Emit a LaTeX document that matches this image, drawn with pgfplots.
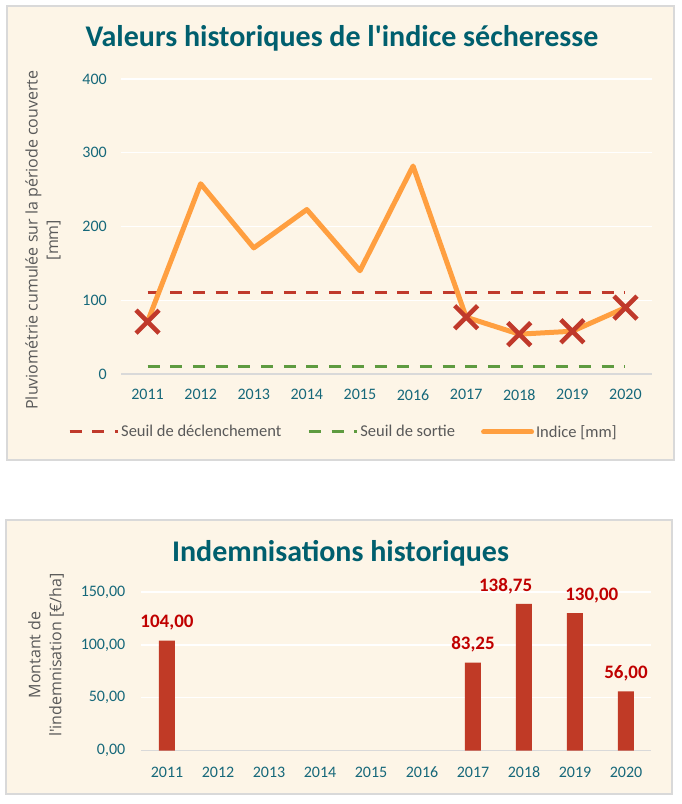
\documentclass[border=0pt]{standalone}
\usepackage{fontspec}
\usepackage{pgfplots}
\pgfplotsset{compat=1.18}
\setmainfont{Carlito}
\newfontfamily\labelfont{Open Sans}
\definecolor{bg}{HTML}{FDF5E7}
\definecolor{framec}{HTML}{D9D9D9}
\definecolor{titlec}{HTML}{005F6E}
\definecolor{tickc}{HTML}{16687A}
\definecolor{seuilr}{HTML}{C0392B}
\definecolor{seuilg}{HTML}{5E9B40}
\definecolor{indice}{HTML}{FF9F40}
\definecolor{markc}{HTML}{C0392B}
\definecolor{barc}{HTML}{C03A26}
\definecolor{labc}{HTML}{C00000}
\definecolor{grayt}{HTML}{595959}
\begin{document}
\begin{tikzpicture}
\useasboundingbox (0pt,0pt) rectangle (682pt,804pt);
\fill[white] (0pt,0pt) rectangle (682pt,804pt);
\draw[framec, line width=1.3pt, fill=bg] (7pt,798pt) rectangle (674pt,344pt);
\draw[framec, line width=1.3pt, fill=bg] (6pt,284pt) rectangle (672pt,10pt);
\node[anchor=base, text=titlec, font=\bfseries\fontsize{30}{36}\selectfont, inner sep=0pt] at (342pt,757.3pt) {Valeurs historiques de l\textquotesingle indice sécheresse};
\node[anchor=base, text=titlec, font=\bfseries\fontsize{30}{36}\selectfont, inner sep=0pt] at (340.5pt,242.3pt) {Indemnisations historiques};

\begin{axis}[
  at={(121pt,430pt)}, anchor=south west,
  scale only axis, width=531pt, height=295pt,
  xmin=-0.5, xmax=9.5, ymin=0, ymax=400,
  xtick={0,1,2,3,4,5,6,7,8,9},
  xticklabels={2011,2012,2013,2014,2015,2016,2017,2018,2019,2020},
  ytick={0,100,200,300,400},
  /pgf/number format/assume math mode=true,
  tick style={draw=none},
  ticklabel style={text=tickc, font=\fontsize{16}{19}\selectfont},
  yticklabel style={anchor=east, inner sep=0pt, xshift=-14pt},
  xticklabel style={anchor=north, inner sep=0pt, yshift=-15pt},
  ymajorgrids, grid style={white, line width=1.3pt},
  axis x line*=bottom, axis y line*=left,
  x axis line style={draw=framec, line width=1.3pt, -},
  y axis line style={draw=none},
  ylabel={Pluviométrie cumulée sur la période couverte\\{[mm]}},
  ylabel style={at={(axis description cs:-0.1469,0.454)}, anchor=center, align=center, text=grayt, font=\labelfont\fontsize{16}{20.5}\selectfont},
  legend columns=3,
  legend cell align=left,
  legend style={at={(axis description cs:-0.0998,-0.1966)}, anchor=west, draw=none, fill=none, inner sep=0pt,
    font=\fontsize{16.5}{19}\selectfont, text=grayt,
    nodes={inner sep=2pt},
    /tikz/every even column/.append style={column sep=24pt},
    /tikz/column 4/.append style={column sep=29pt}},
  legend image code/.code={\draw[#1] (0pt,0pt) -- (48pt,0pt);},
]
\addplot[seuilr, line width=3pt, dash pattern=on 12pt off 10.7pt] coordinates {(0,110) (9,110)};
\addlegendentry{Seuil de déclenchement}
\addplot[seuilg, line width=3pt, dash pattern=on 12pt off 10.7pt] coordinates {(0,10) (9,10)};
\addlegendentry{Seuil de sortie}
\addplot[indice, line width=5pt, line join=round, line cap=round] coordinates {
  (0,71) (1,258) (2,171) (3,223) (4,140) (5,282) (6,77) (7,54) (8,58) (9,90)};
\addlegendentry{Indice {[mm]}}
\addplot[only marks, forget plot, mark=x, mark size=16.3pt, mark options={draw=markc, line width=4.5pt}] coordinates {
  (0,71) (6,77) (7,54) (8,58) (9,90)};
\end{axis}

\begin{axis}[
  at={(141.5pt,53.3pt)}, anchor=south west,
  scale only axis, width=510pt, height=158.7pt,
  xmin=-0.5, xmax=9.5, ymin=0, ymax=150,
  xtick={0,1,2,3,4,5,6,7,8,9},
  xticklabels={2011,2012,2013,2014,2015,2016,2017,2018,2019,2020},
  ytick={0,50,100,150},
  yticklabels={{0,00},{50,00},{100,00},{150,00}},
  tick style={draw=none},
  ticklabel style={text=tickc, font=\fontsize{16}{19}\selectfont},
  yticklabel style={anchor=east, inner sep=0pt, xshift=-16pt},
  xticklabel style={anchor=north, inner sep=0pt, yshift=-16pt},
  ymajorgrids, grid style={white, line width=1.3pt},
  axis x line*=bottom, axis y line*=left,
  x axis line style={draw=framec, line width=1.3pt, -},
  y axis line style={draw=none},
  ylabel={Montant de\\l\textquotesingle indemnisation {[€/ha]}},
  ylabel style={at={(axis description cs:-0.1873,0.603)}, anchor=center, align=center, text=grayt, font=\labelfont\fontsize{16}{21}\selectfont},
]
\addplot[ybar, bar width=16pt, fill=barc, draw=none] coordinates {
  (0,104) (6,83.25) (7,138.75) (8,130) (9,56)};
\addplot[draw=none, mark=none, point meta=explicit symbolic, nodes near coords,
  nodes near coords style={anchor=base, yshift=12.7pt, text=labc, font=\bfseries\fontsize{19}{22}\selectfont, inner sep=0pt}] coordinates {
  (0,104) [104,00]
  (6,83.25) [83,25]
  (6.64,138.75) [138,75]
  (8.33,130) [130,00]
  (9,56) [56,00]};
\end{axis}
\end{tikzpicture}
\end{document}
